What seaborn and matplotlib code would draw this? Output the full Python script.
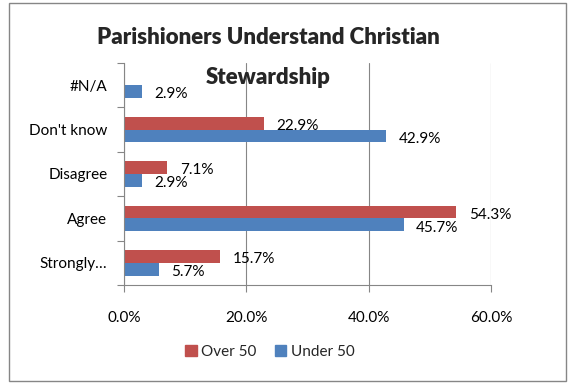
import matplotlib
matplotlib.use("Agg")
import matplotlib.pyplot as plt
import seaborn as sns
import pandas as pd
import numpy as np
from matplotlib.patches import Rectangle
from matplotlib.ticker import FixedLocator, FuncFormatter

categories = ["#N/A", "Don't know", "Disagree", "Agree", "Strongly\u2026"]
over_50 = [0.0, 22.9, 7.1, 54.3, 15.7]
under_50 = [2.9, 42.9, 2.9, 45.7, 5.7]
series = ["Over 50", "Under 50"]
colors = ["#C0504D", "#4F81BD"]
x_ticks = [0, 20, 40, 60]

df = pd.DataFrame({
    "category": categories * 2,
    "value": over_50 + under_50,
    "series": [series[0]] * len(categories) + [series[1]] * len(categories),
})

sns.set_theme(style="white")
plt.rcParams["font.family"] = ["Lato", "DejaVu Sans"]

fig = plt.figure(figsize=(5.74, 3.84), dpi=100)
ax = fig.add_axes([124 / 574, 1 - 285 / 384, (491 - 124) / 574, (285 - 63) / 384])

sns.barplot(data=df, y="category", x="value", hue="series", order=categories,
            hue_order=series, palette=colors, orient="h", width=0.58,
            saturation=1, ax=ax, legend=False, edgecolor="none", linewidth=0)

ax.set_xlim(0, 60)
ax.set_ylim(len(categories) - 0.5, -0.5)
ax.xaxis.set_major_locator(FixedLocator(x_ticks))
ax.xaxis.set_major_formatter(FuncFormatter(lambda v, p: f"{v:.1f}%"))
ax.grid(axis="x", color="#868686", linewidth=0.8)
ax.set_axisbelow(True)
ax.set_xlabel("")
ax.set_ylabel("")

for s in ["top", "right"]:
    ax.spines[s].set_visible(False)
for s in ["left", "bottom"]:
    ax.spines[s].set_color("#868686")
    ax.spines[s].set_linewidth(0.8)

fs = 11
ax.tick_params(axis="x", which="major", length=5, color="#868686", width=0.8,
               labelsize=fs, pad=14, colors="#868686", labelcolor="black", direction="out")
ax.tick_params(axis="y", which="major", length=0, labelsize=fs, pad=12, labelcolor="black")
ax.set_yticks(np.arange(len(categories) + 1) - 0.5, minor=True)
ax.tick_params(axis="y", which="minor", length=5, color="#868686", width=0.8, direction="out", left=True)
ax.tick_params(axis="x", bottom=True)

# data labels
for container, vals in zip(ax.containers, [over_50, under_50]):
    for bar, v in zip(container, vals):
        if v == 0:
            continue
        yc = bar.get_y() + bar.get_height() / 2
        ax.annotate(f"{v:.1f}%", xy=(bar.get_width(), yc), xytext=(9, -2),
                    textcoords="offset points", ha="left", va="center",
                    fontsize=fs, color="black", annotation_clip=False)

fig.text(268 / 574, 1 - 38 / 384, "Parishioners Understand Christian", ha="center", va="center",
         fontsize=16, fontweight="heavy")
fig.text(268 / 574, 1 - 78 / 384, "Stewardship", ha="center", va="center",
         fontsize=16, fontweight="heavy")

handles = [Rectangle((0, 0), 1, 1, color=c) for c in colors]
fig.legend(handles, series, loc="center", bbox_to_anchor=(270 / 574, 1 - 352 / 384),
           ncol=2, frameon=False, fontsize=fs, handlelength=0.75, handleheight=0.75,
           handletextpad=0.3, columnspacing=1.2)

fig.patches.append(Rectangle((9 / 574, 3 / 384), (566 - 9) / 574, (381 - 3) / 384,
                             transform=fig.transFigure, fill=False, edgecolor="#868686",
                             linewidth=1.0))

fig.savefig("out.png", dpi=100)
